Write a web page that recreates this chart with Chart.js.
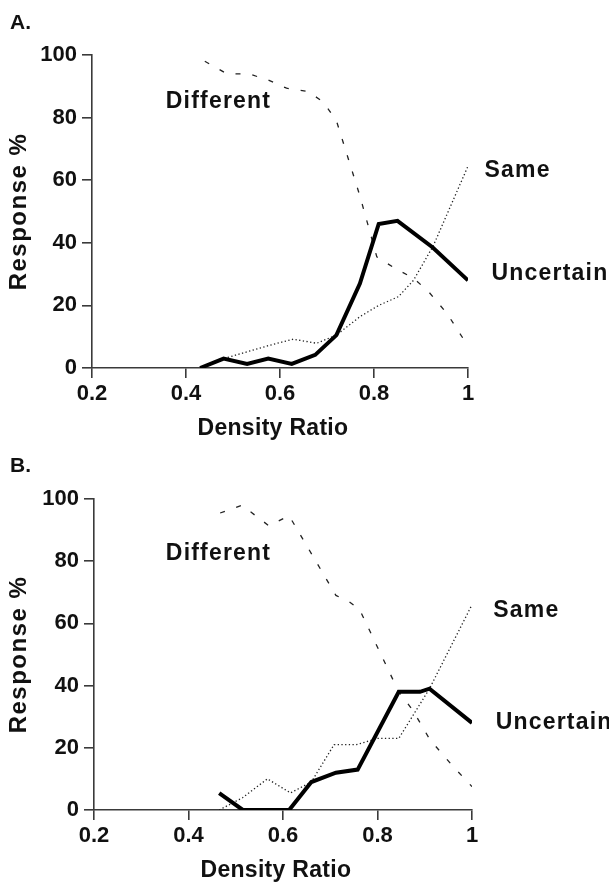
<!DOCTYPE html>
<html>
<head>
<meta charset="utf-8">
<script src="https://cdn.jsdelivr.net/npm/chart.js@4/dist/chart.umd.min.js"></script>
<style>
  body { margin: 0; background: #fff; }
  .wrap { position: relative; width: 609px; height: 882px; }
  canvas { position: absolute; left: 0; }
  #cA { top: 0; }
  #cB { top: 441px; }
</style>
</head>
<body>
<div class="wrap">
  <canvas id="cA" width="609" height="441"></canvas>
  <canvas id="cB" width="609" height="441"></canvas>
</div>
<script>
// tick labels
const xTicks = [0.2, 0.4, 0.6, 0.8, 1];
const xTickLabels = ['0.2', '0.4', '0.6', '0.8', '1'];
const yTicks = [0, 20, 40, 60, 80, 100];

// panel A
const uncertainAx = [0.43, 0.48, 0.53, 0.575, 0.625, 0.675, 0.72, 0.77, 0.81, 0.85, 0.925, 1.0];
const uncertainAy = [0, 3, 1.3, 3, 1.3, 4.2, 10.5, 27, 46, 47, 38.5, 28];
const sameAx = [0.43, 0.48, 0.526, 0.579, 0.628, 0.678, 0.72, 0.77, 0.81, 0.852, 0.884, 0.926, 1.0];
const sameAy = [0, 3, 5, 7.3, 9.2, 7.9, 10.5, 16.4, 20, 22.8, 28, 39, 64.5];
const differentAx = [0.44, 0.487, 0.533, 0.575, 0.614, 0.66, 0.692, 0.72, 0.77, 0.806, 0.845, 0.884, 0.916, 0.955, 1.0];
const differentAy = [98, 94, 94, 92, 89.4, 88.3, 85, 79, 55, 35.5, 31.8, 28.7, 24.4, 17.5, 7];

// panel B
const uncertainBx = [0.465, 0.515, 0.565, 0.613, 0.66, 0.712, 0.758, 0.845, 0.89, 0.91, 1.0];
const uncertainBy = [5.4, 0, 0, 0, 9, 12, 13, 38, 38, 39, 28];
const sameBx = [0.465, 0.515, 0.567, 0.616, 0.66, 0.708, 0.755, 0.80, 0.845, 0.91, 1.0];
const sameBy = [0, 4, 10, 5.5, 9, 21, 21, 23, 23, 39, 66];
const differentBx = [0.467, 0.513, 0.57, 0.613, 0.712, 0.74, 0.762, 0.845, 0.875, 0.911, 0.96, 1.0];
const differentBy = [95.5, 98, 91.4, 94.6, 69, 67, 64.5, 38, 32, 22.6, 14, 7.5];

// label positions (data units)
const labelsA = [
    { text: 'Different', x: 0.357, y: 85 },
    { text: 'Same', x: 1.035, y: 63 },
    { text: 'Uncertain', x: 1.05, y: 30 }
];
const labelsB = [
    { text: 'Different', x: 0.352, y: 82.5 },
    { text: 'Same', x: 1.045, y: 64 },
    { text: 'Uncertain', x: 1.05, y: 28 }
];

function pts(xs, ys) {
    return xs.map((x, i) => ({ x: x, y: ys[i] }));
}

const FONT = '"Liberation Sans", Arial, sans-serif';

function createChart(canvasId, panel, series, labels, box) {
    const canvas = document.getElementById(canvasId);

    const textPlugin = {
        id: 'texts' + panel,
        afterDraw(chart) {
            const ctx = chart.ctx;
            const xs = chart.scales.x;
            const ys = chart.scales.y;
            const area = chart.chartArea;
            ctx.save();
            ctx.fillStyle = '#111';
            ctx.textAlign = 'left';
            ctx.textBaseline = 'middle';

            ctx.font = 'bold 23px ' + FONT;
            ctx.letterSpacing = '1.2px';
            labels.forEach(l => {
                ctx.fillText(l.text, xs.getPixelForValue(l.x), ys.getPixelForValue(l.y));
            });

            // panel letter
            ctx.font = 'bold 21px ' + FONT;
            ctx.letterSpacing = '0px';
            ctx.textBaseline = 'alphabetic';
            ctx.fillText(panel + '.', 10, box.letterY);

            // x title
            ctx.font = 'bold 23px ' + FONT;
            ctx.letterSpacing = '0.3px';
            ctx.textAlign = 'center';
            ctx.fillText('Density Ratio', xs.getPixelForValue(0.585), area.bottom + 67);

            // y title
            ctx.font = 'bold 24px ' + FONT;
            ctx.translate(box.yTitleX, (area.top + area.bottom) / 2);
            ctx.rotate(-Math.PI / 2);
            ctx.letterSpacing = '1.5px';
            ctx.textBaseline = 'middle';
            ctx.fillText('Response %', 0, 0);
            ctx.restore();
        }
    };

    const axisStyle = {
        border: { display: true, color: '#3a3a3a', width: 1.6 },
        grid: { drawOnChartArea: false, drawTicks: true, tickLength: 10, color: '#3a3a3a', lineWidth: 1.6 }
    };

    new Chart(canvas, {
        type: 'line',
        data: {
            datasets: [
                {
                    label: 'Uncertain',
                    data: pts(series.ux, series.uy),
                    borderColor: '#000',
                    borderWidth: 4,
                    pointRadius: 0,
                    tension: 0
                },
                {
                    label: 'Same',
                    data: pts(series.sx, series.sy),
                    borderColor: '#222',
                    borderWidth: 1.3,
                    borderDash: [1.3, 2.4],
                    pointRadius: 0,
                    tension: 0
                },
                {
                    label: 'Different',
                    data: pts(series.dx, series.dy),
                    borderColor: '#222',
                    borderWidth: 1.3,
                    borderDash: [5, 12],
                    pointRadius: 0,
                    tension: 0
                }
            ]
        },
        options: {
            responsive: false,
            animation: false,
            events: [],
            layout: {
                autoPadding: false,
                padding: { left: 0, right: box.right, top: box.top, bottom: 0 }
            },
            plugins: {
                legend: { display: false },
                tooltip: { enabled: false }
            },
            scales: {
                x: Object.assign({
                    type: 'linear',
                    min: 0.2,
                    max: 1.0,
                    afterBuildTicks: (scale) => { scale.ticks = xTicks.map(v => ({ value: v })); },
                    afterFit: (scale) => { scale.height = box.xHeight; },
                    ticks: {
                        color: '#111',
                        padding: 3,
                        maxRotation: 0,
                        font: { family: FONT, weight: 'bold', size: 22 },
                        callback: (value) => {
                            const i = xTicks.findIndex(t => Math.abs(t - value) < 1e-6);
                            return i >= 0 ? xTickLabels[i] : '';
                        }
                    }
                }, axisStyle),
                y: Object.assign({
                    type: 'linear',
                    min: 0,
                    max: 100,
                    afterBuildTicks: (scale) => { scale.ticks = yTicks.map(v => ({ value: v })); },
                    afterFit: (scale) => { scale.width = box.left; },
                    ticks: {
                        color: '#111',
                        padding: 5,
                        font: { family: FONT, weight: 'bold', size: 22 }
                    }
                }, axisStyle)
            }
        },
        plugins: [textPlugin]
    });
}

createChart('cA', 'A',
    { ux: uncertainAx, uy: uncertainAy, sx: sameAx, sy: sameAy, dx: differentAx, dy: differentAy },
    labelsA,
    { left: 92, right: 141, top: 55, xHeight: 73, letterY: 29, yTitleX: 19 });

createChart('cB', 'B',
    { ux: uncertainBx, uy: uncertainBy, sx: sameBx, sy: sameBy, dx: differentBx, dy: differentBy },
    labelsB,
    { left: 94, right: 137, top: 58, xHeight: 72, letterY: 31, yTitleX: 19 });
</script>
</body>
</html>
